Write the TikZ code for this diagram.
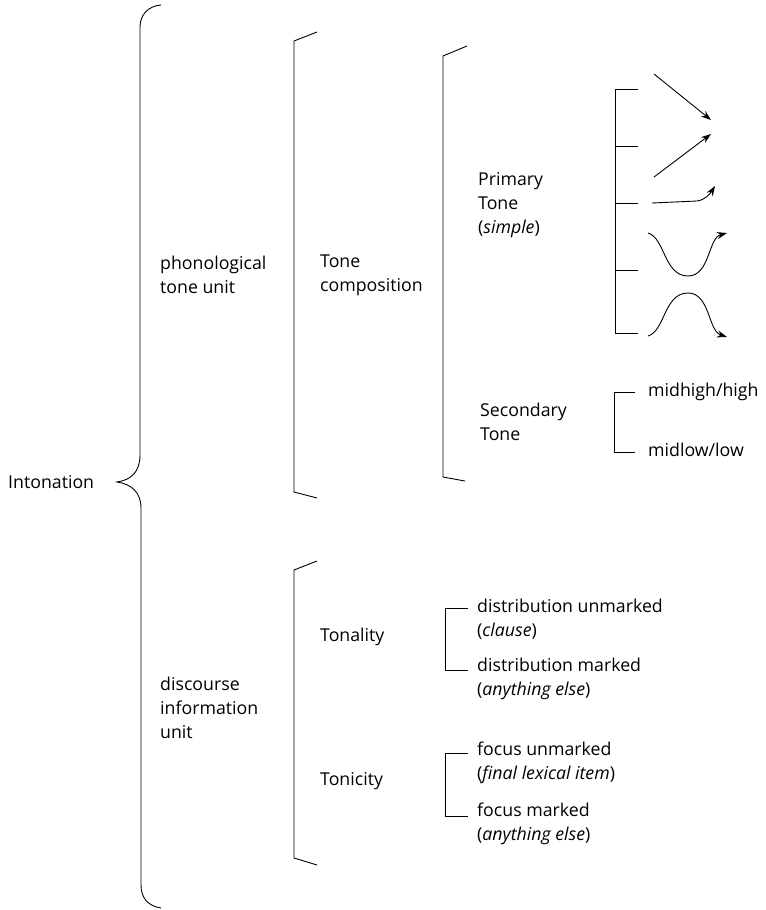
\documentclass[tikz,border=0pt]{standalone}
\usepackage{fontspec}
\setmainfont{Open Sans}
\usetikzlibrary{arrows.meta}

\tikzset{
  label/.style={anchor=west, inner sep=0pt, align=left,
    font=\fontsize{17.8}{24}\selectfont},
  bracket/.style={draw, line width=0.9pt},
  tone/.style={draw, line width=0.9pt, -{Stealth[length=10bp, width=7bp]}}
}

\begin{document}
\begin{tikzpicture}[x=1bp, y=-1bp]
    \useasboundingbox (0,0) rectangle (766,910);

    % Level 1
    \node[label] (inton) at (8,482) {Intonation};
    \draw[bracket] (161,5) .. controls (148,6) and (140,15) .. (140,27)
        -- (140,455) .. controls (140,472) and (131,480) .. (117,482)
        .. controls (131,484) and (141,492) .. (141,508)
        -- (141,885) .. controls (141,898) and (148,906) .. (161,908);

    % Level 2
    \node[label] (phon) at (160,275) {phonological\\tone unit};
    \node[label] (disc) at (160,708) {discourse\\information\\unit};
    \draw[bracket] (317,32) -- (294,41) -- (294,492) -- (317,498);
    \draw[bracket] (317,561) -- (294,570) -- (294,858) -- (317,865);

    % Level 3
    \node[label] (comp) at (320,275) {Tone\\composition};
    \node[label] (tnlt) at (320,637) {Tonality};
    \node[label] (tnct) at (320,781) {Tonicity};
    \draw[bracket] (467,46) -- (443,56) -- (443,477) -- (465,481);

    % Level 4
    \node[label] (prim) at (478,205) {Primary\\Tone\\(\textit{simple})};
    \node[label] (scnd) at (480,422) {Secondary\\Tone};
    \node[label] (dunm) at (477,619) {distribution unmarked\\(\textit{clause})};
    \node[label] (dmrk) at (477,679) {distribution marked\\(\textit{anything else})};
    \node[label] (funm) at (477,763) {focus unmarked\\(\textit{final lexical item})};
    \node[label] (fmrk) at (477,824) {focus marked\\(\textit{anything else})};
    \draw[bracket] (468,608) -- (445,608) -- (445,670) -- (468,670);
    \draw[bracket] (468,753) -- (445,753) -- (445,816) -- (468,816);

    % Level 5
    \node[label] (high) at (648,392) {midhigh/high};
    \node[label] (low) at (648,450) {midlow/low};
    \draw[bracket] (635,392) -- (614,392) -- (614,452) -- (635,452);
    \draw[bracket] (638,89) -- (615,89) -- (615,333) -- (638,333);
    \foreach \y in {146,203,270}
        \draw[bracket] (615,\y) -- (638,\y);

    % Tone contours
    \draw[tone] (654,74) -- (711,120);
    \draw[tone] (654,177) -- (711,134);
    \draw[tone] (652,203) -- (697,201) .. controls (705,200) and (710,194) .. (715,186);
    \draw[tone] (648,233) .. controls (665,238) and (664,276) .. (688,276)
        .. controls (710,276) and (708,238) .. (727,233);
    \draw[tone] (648,336) .. controls (665,331) and (664,293) .. (688,293)
        .. controls (710,293) and (708,331) .. (727,337);
\end{tikzpicture}
\end{document}
